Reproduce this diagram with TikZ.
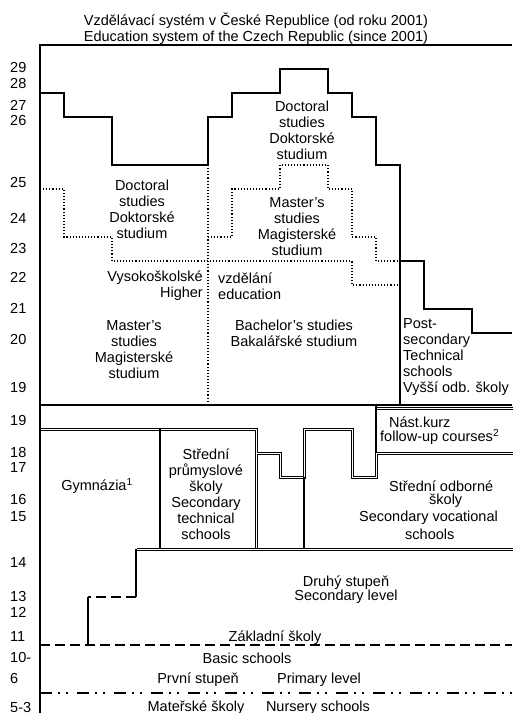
\documentclass[tikz,border=0pt]{standalone}
\usepackage{fontspec}
\setmainfont{Liberation Sans}
\newcommand{\fsz}{\fontsize{14.5}{16}\selectfont}
\tikzset{
  prof/.style={line width=2pt},
  frame/.style={line width=2pt},
  dots/.style={line width=1.1pt, dash pattern=on 1.1pt off 2pt},
  dbl/.style={double=white, line width=1pt, double distance=1pt},
  thinl/.style={line width=1.5pt},
  dsh/.style={line width=2pt, dash pattern=on 10pt off 5pt},
  dshdot/.style={line width=2pt, dash pattern=on 12pt off 6pt on 2pt off 6pt on 2pt off 9pt},
  txt/.style={inner sep=0pt, font=\fsz, align=center},
  age/.style={inner sep=0pt, font=\fsz, anchor=west},
}
\begin{document}
\begin{tikzpicture}[x=1pt,y=-1pt]
\useasboundingbox (0,0) rectangle (512,713);
\fill[white] (0,0) rectangle (512,713);
% frame
\draw[frame] (40,713) -- (40,45) -- (512,45);
% university profile
\draw[prof] (40,93) -- (64,93) -- (64,117) -- (112,117) -- (112,165) -- (208,165) -- (208,117) -- (232,117) -- (232,93) -- (280,93) -- (280,69) -- (328,69) -- (328,93) -- (352,93) -- (352,117) -- (376,117) -- (376,165) -- (400,165) -- (400,405);
\draw[prof] (400,261) -- (424,261) -- (424,309) -- (472,309) -- (472,333) -- (512,333);
% dotted
\draw[dots] (40,189) -- (64,189) -- (64,237) -- (112,237) -- (112,261) -- (352,261) -- (352,285) -- (400,285);
\draw[dots] (208,237) -- (232,237) -- (232,189) -- (280,189) -- (280,165) -- (328,165) -- (328,189) -- (352,189) -- (352,237) -- (376,237) -- (376,261) -- (400,261);
\draw[dots] (208,165) -- (208,405);
% secondary
\draw[thinl] (40,405) -- (512,405);
\draw[dbl] (40.5,429.5) -- (256.5,429.5) -- (256.5,549.5);
\draw[thinl] (160,429) -- (160,549);
\draw[dbl] (256.5,453.5) -- (280.5,453.5) -- (280.5,477.5) -- (304.5,477.5) -- (304.5,429.5) -- (352.5,429.5) -- (352.5,477.5) -- (376.5,477.5) -- (376.5,453.5) -- (512.5,453.5);
\draw[dbl] (376.5,408.5) -- (512.5,408.5);
\draw[thinl] (376,405) -- (376,453);
\draw[thinl] (304,477) -- (304,549);
\draw[dbl] (136.5,549.5) -- (512.5,549.5);
% basic
\draw[prof] (136,549) -- (136,597);
\draw[dsh] (136,597) -- (88,597);
\draw[prof] (88,597) -- (88,645);
\draw[dsh] (40,645) -- (512,645);
\draw[dshdot] (40,693) -- (512,693);
% title
\node[txt] (title) at (256,28.5) {Vzdělávací systém v České Republice (od roku 2001)\\Education system of the Czech Republic (since 2001)};
% ages
\node[age] (a29) at (10,68) {29};
\node[age] (a28) at (10,84) {28};
\node[age] (a27) at (10,105) {27};
\node[age] (a26) at (10,121) {26};
\node[age] (a25) at (10,183) {25};
\node[age] (a24) at (10,218) {24};
\node[age] (a23) at (10,249) {23};
\node[age] (a22) at (10,277) {22};
\node[age] (a21) at (10,308) {21};
\node[age] (a20) at (10,340) {20};
\node[age] (a19a) at (10,388) {19};
\node[age] (a19b) at (10,421) {19};
\node[age] (a18) at (10,453) {18};
\node[age] (a17) at (10,468) {17};
\node[age] (a16) at (10,500) {16};
\node[age] (a15) at (10,517) {15};
\node[age] (a14) at (10,563) {14};
\node[age] (a13) at (10,597) {13};
\node[age] (a12) at (10,612) {12};
\node[age] (a11) at (10,637) {11};
\node[age] (a10) at (10,657) {10-};
\node[age] (a6) at (10,678) {6};
\node[age] (a53) at (10,707) {5-3};
% university texts
\node[txt] (docR) at (302,130.5) {Doctoral\\studies\\Doktorské\\studium};
\node[txt] (docL) at (142,209.5) {Doctoral\\studies\\Doktorské\\studium};
\node[txt] (magR) at (297,226.5) {Master’s\\studies\\Magisterské\\studium};
\node[txt, anchor=east, align=right] (vys) at (203,286) {Vysokoškolské\\Higher};
\node[txt, anchor=west, align=left] (vzd) at (218,286) {vzdělání\\education};
\node[txt] (magL) at (134,349.5) {Master’s\\studies\\Magisterské\\studium};
\node[txt] (bac) at (294,333.5) {Bachelor’s studies\\Bakalářské studium};
\node[txt, anchor=west, align=left] (post) at (403,357.5) {Post-\\secondary\\Technical\\schools\\Vyšší odb. školy};
% secondary texts
\node[txt, anchor=west] (nast) at (389,422) {Nást.kurz};
\node[txt, anchor=west] (follow) at (380,437) {follow-up courses\textsuperscript{2}};
\node[txt, anchor=west] (sos1) at (389,486) {Střední odborné};
\node[txt, anchor=west] (sos2) at (429,501) {školy};
\node[txt, anchor=west] (sos3) at (359,518) {Secondary vocational};
\node[txt, anchor=west] (sos4) at (405,534) {schools};
\node[txt] (gym) at (97,486) {Gymnázia\textsuperscript{1}};
\node[txt] (sps) at (206,494) {Střední\\průmyslové\\školy\\Secondary\\technical\\schools};
% basic texts
\node[txt] (druhy) at (346,589.5) {Druhý stupeň\\[-1.5pt]Secondary level};
\node[txt] (zakl) at (275,638) {Základní školy};
\node[txt] (basic) at (247,658) {Basic schools};
\node[txt] (prvni) at (198,680) {První stupeň};
\node[txt] (prim) at (319,680) {Primary level};
\node[txt] (mat) at (196,708) {Mateřské školy};
\node[txt] (nurs) at (318,708) {Nursery schools};
\end{tikzpicture}
\end{document}
